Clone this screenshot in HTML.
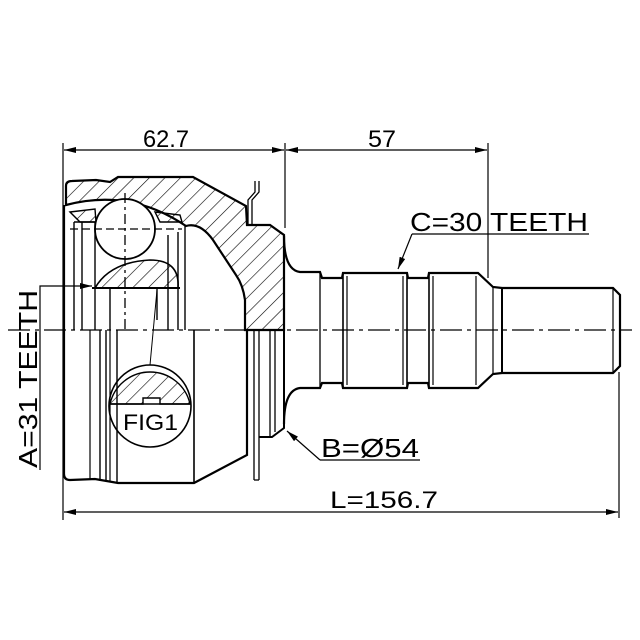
<!DOCTYPE html>
<html><head><meta charset="utf-8"><style>html,body{margin:0;padding:0;background:#fff}svg{display:block}</style></head>
<body>
<svg width="640" height="640" viewBox="0 0 640 640" xmlns="http://www.w3.org/2000/svg">
<defs>
<pattern id="h" patternUnits="userSpaceOnUse" width="11" height="11" patternTransform="rotate(45)">
<line x1="0" y1="0" x2="0" y2="11" stroke="#000" stroke-width="1.2"/>
</pattern>
<marker id="a" viewBox="0 0 12 6" refX="12" refY="3" markerWidth="12" markerHeight="6" orient="auto-start-reverse" markerUnits="userSpaceOnUse">
<path d="M0,0 L12,3 L0,6 z" fill="#000"/>
</marker>
</defs>
<rect width="640" height="640" fill="#fff"/>
<g fill="none" stroke="#000" font-family="Liberation Sans, sans-serif">
<line x1="63" y1="143" x2="63" y2="520" stroke-width="1.2"/>
<line x1="285" y1="143" x2="285" y2="228" stroke-width="1.2"/>
<line x1="488" y1="143" x2="488" y2="278" stroke-width="1.2"/>
<line x1="64" y1="150" x2="284" y2="150" stroke-width="1.2" marker-start="url(#a)" marker-end="url(#a)"/>
<line x1="286" y1="150" x2="487" y2="150" stroke-width="1.2" marker-start="url(#a)" marker-end="url(#a)"/>
<line x1="619" y1="372" x2="619" y2="518" stroke-width="1.2"/>
<line x1="64" y1="512" x2="618" y2="512" stroke-width="1.2" marker-start="url(#a)" marker-end="url(#a)"/>
<polyline points="40,470 40,286 92,286" stroke-width="1.2" marker-end="url(#a)"/>
<line x1="589" y1="234" x2="412" y2="234" stroke-width="1.2"/>
<line x1="412" y1="234" x2="398" y2="269" stroke-width="1.2" marker-end="url(#a)"/>
<line x1="420" y1="460" x2="320" y2="460" stroke-width="1.2"/>
<line x1="320" y1="460" x2="287" y2="431" stroke-width="1.2" marker-end="url(#a)"/>

<path d="M66,205 L66,186 Q66,181 72,181 L96,180 L110,182 L118,177 L193,177 L246,206 L247,225 L270,225 L284,235 L284,330 L245,330 L245,300 Q243,285 236,275 L213,240 Q200,222 186,226 Q130,188 66,205 Z" fill="url(#h)" stroke-width="2.2"/>
<path d="M95,288 Q110,262 150,260 Q180,260 178,288 Z" fill="url(#h)" stroke-width="1.6"/>
<path d="M70,212 L95,209 L96,222 L80,222 Z" fill="url(#h)" stroke-width="1.4"/>
<path d="M155,212 L180,215 L182,222 L160,222 Z" fill="url(#h)" stroke-width="1.4"/>
<circle cx="125" cy="229" r="30" fill="#fff" stroke-width="1.8"/>
<line x1="125" y1="193" x2="125" y2="330" stroke-width="1.3" stroke-dasharray="10,4,3,4"/>
<line x1="70" y1="229" x2="182" y2="229" stroke-width="1.3" stroke-dasharray="8,4"/>
<line x1="74" y1="222" x2="74" y2="330" stroke-width="1.4"/>
<line x1="82" y1="222" x2="82" y2="330" stroke-width="1.4"/>
<line x1="74" y1="222" x2="95" y2="222" stroke-width="1.4"/>
<line x1="95" y1="222" x2="95" y2="330" stroke-width="1.4"/>
<line x1="110" y1="288" x2="110" y2="330" stroke-width="1.4"/>
<line x1="92" y1="288" x2="180" y2="288" stroke-width="2"/>
<line x1="168" y1="235" x2="168" y2="330" stroke-width="1.4"/>
<line x1="178" y1="232" x2="178" y2="330" stroke-width="1.4"/>
<line x1="185" y1="226" x2="185" y2="330" stroke-width="1.4"/>
<line x1="157" y1="288" x2="157" y2="320" stroke-width="1.4"/>
<path d="M255,181 L255,192 L248,200 L248,224 M259,181 L259,192 L252,200 L252,224" stroke-width="1.3"/>
<path d="M64,205 L64,474 Q64,480 70,480 L95,479 L118,483 L194,483 L247,455 L247,330" stroke-width="2.2"/>
<line x1="100" y1="330" x2="100" y2="481" stroke-width="1.4"/>
<line x1="106" y1="330" x2="106" y2="481" stroke-width="1.4"/>
<line x1="110" y1="330" x2="110" y2="481" stroke-width="1.2"/>
<line x1="117" y1="330" x2="117" y2="483" stroke-width="1.4"/>
<line x1="194" y1="330" x2="194" y2="483" stroke-width="1.6"/>
<line x1="90" y1="330" x2="90" y2="479" stroke-width="1.2"/>
<line x1="254" y1="330" x2="254" y2="480" stroke-width="1.3"/>
<line x1="259" y1="330" x2="259" y2="480" stroke-width="1.3"/>
<line x1="254" y1="480" x2="259" y2="480" stroke-width="1.3"/>
<line x1="270" y1="330" x2="270" y2="437" stroke-width="1.3"/>
<line x1="275" y1="330" x2="275" y2="432" stroke-width="1.3"/>
<path d="M284,330 L284,428 L272,437 L259,437" stroke-width="2"/>
<line x1="150" y1="365" x2="157" y2="290" stroke-width="1"/>
<path d="M110,404 A41,41 0 0 1 190,404 L160,404 L160,398 L143,398 L143,404 Z" fill="url(#h)" stroke-width="1.4"/>
<circle cx="150" cy="406" r="41" fill="none" stroke-width="1.6"/>
<line x1="109" y1="404" x2="191" y2="404" stroke-width="1.4"/>
<path d="M284,236 Q284,270 300,272 L320,272 L322,278 L342,278 L343,273 L407,273 L408,278 L428,278 L429,273 L478,273 L493,287 L502,288 L613,288 L620,295 L620,366 L613,373 L502,373 L493,374 L478,388 L429,388 L428,383 L408,383 L407,388 L343,388 L342,383 L322,383 L320,388 L300,388 Q284,390 284,424" stroke-width="2.2"/>
<line x1="320" y1="272" x2="320" y2="388" stroke-width="1.3"/>
<line x1="343" y1="273" x2="343" y2="388" stroke-width="1.6"/>
<line x1="347" y1="276" x2="347" y2="385" stroke-width="1.2"/>
<line x1="403" y1="276" x2="403" y2="385" stroke-width="1.2"/>
<line x1="407" y1="273" x2="407" y2="388" stroke-width="1.6"/>
<line x1="429" y1="273" x2="429" y2="388" stroke-width="1.6"/>
<line x1="433" y1="276" x2="433" y2="385" stroke-width="1.2"/>
<line x1="476" y1="276" x2="476" y2="385" stroke-width="1.2"/>
<line x1="493" y1="287" x2="493" y2="374" stroke-width="1.2"/>
<line x1="502" y1="288" x2="502" y2="373" stroke-width="2"/>
<line x1="613" y1="288" x2="613" y2="373" stroke-width="1.2"/>
<line x1="8" y1="330" x2="632" y2="330" stroke-width="1.3" stroke-dasharray="22,5,4,5"/>
</g>
<g font-family="Liberation Sans, sans-serif" fill="#000">
<text x="143" y="147" font-size="24" textLength="46" lengthAdjust="spacingAndGlyphs">62.7</text>
<text x="368" y="147" font-size="24" textLength="28" lengthAdjust="spacingAndGlyphs">57</text>
<text x="410" y="231" font-size="26" textLength="178" lengthAdjust="spacingAndGlyphs">C=30 TEETH</text>
<text x="321" y="457" font-size="26" textLength="98" lengthAdjust="spacingAndGlyphs">B=Ø54</text>
<text x="330" y="508" font-size="24" textLength="108" lengthAdjust="spacingAndGlyphs">L=156.7</text>
<text x="123" y="430" font-size="22" textLength="55" lengthAdjust="spacingAndGlyphs">FIG1</text>
<text transform="translate(37,468) rotate(-90)" font-size="26" textLength="178" lengthAdjust="spacingAndGlyphs">A=31 TEETH</text>
</g>
</svg>
</body></html>
